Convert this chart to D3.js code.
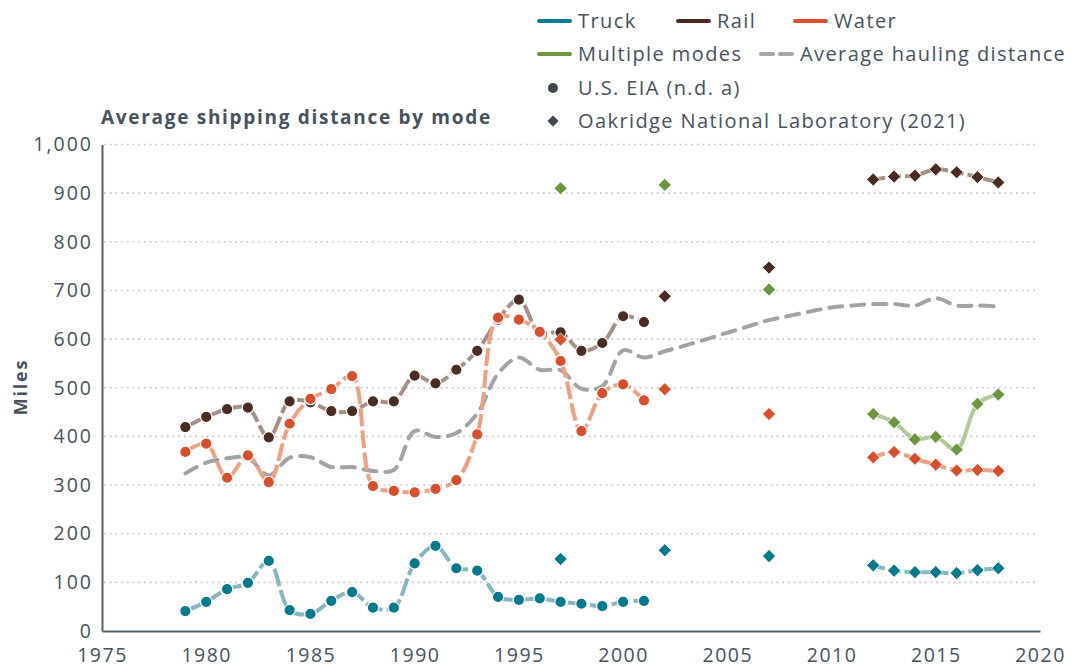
<!DOCTYPE html>
<html>
<head>
<meta charset="utf-8">
<script src="https://cdn.jsdelivr.net/npm/d3@7"></script>
<style>
  body { margin: 0; background: #fff; }
  text { font-family: 'Open Sans', sans-serif; fill: #46525c; }
</style>
</head>
<body>
<div id="chart"></div>
<script>
// Dados
const eiaYears = d3.range(1979, 2002);
const eiaTruck = [41, 60, 86, 99, 144, 43, 35, 62, 80, 48, 48, 139, 175, 129, 124, 70, 64, 67, 60, 56, 51, 60, 62];
const eiaRail = [419, 440, 456, 459, 398, 472, 470, 452, 452, 472, 472, 525, 509, 537, 576, 640, 681, 612, 614, 576, 592, 647, 635];
const eiaWater = [368, 385, 315, 361, 306, 426, 477, 497, 524, 298, 288, 285, 292, 310, 404, 644, 640, 615, 555, 411, 489, 507, 474];

const ornlYears = [1997, 2002, 2007, 2012, 2013, 2014, 2015, 2016, 2017, 2018];
const ornlTruck = [148, 166, 154, 135, 124, 121, 121, 119, 125, 129];
const ornlRail = [null, 688, 747, 928, 934, 936, 949, 943, 933, 922];
const ornlWater = [599, 497, 446, 357, 368, 354, 342, 330, 331, 329];
const ornlMulti = [910, 917, 702, 446, 429, 394, 399, 373, 467, 486];

const avgYears = d3.range(1979, 2019);
const avgHaul = [324, 346, 355, 356, 320, 356, 357, 337, 337, 329, 331, 411, 399, 407, 447, 529, 562, 537, 536, 498,
  503, 577, 562, 575, 587, 600, 613, 626, 639, 648, 657, 665, 669, 672, 672, 669, 684, 669, 669, 667];

const xTicks = d3.range(1975, 2021, 5);
const yTicks = d3.range(0, 1001, 100);

const modes = [
  { name: 'Truck', dark: '#007a8c', light: '#88b5c2', eia: eiaTruck, ornl: ornlTruck },
  { name: 'Rail', dark: '#4b2c22', light: '#a58f86', eia: eiaRail, ornl: ornlRail },
  { name: 'Water', dark: '#d94f2b', light: '#eca282', eia: eiaWater, ornl: ornlWater },
  { name: 'Multiple modes', dark: '#6b983d', light: '#b2c79a', eia: null, ornl: ornlMulti }
];

const width = 1072, height = 668;

const svg = d3.select('#chart').append('svg')
  .attr('width', width)
  .attr('height', height);

// Escalas
const x = d3.scaleLinear().domain([1975, 2020]).range([102, 1040]);
const y = d3.scaleLinear().domain([0, 1000]).range([631, 144.5]);

// Grade pontilhada
svg.append('g')
  .selectAll('line')
  .data(yTicks.filter(d => d > 0))
  .join('line')
  .attr('x1', x(1975) + 2)
  .attr('x2', 1038)
  .attr('y1', d => y(d))
  .attr('y2', d => y(d))
  .attr('stroke', '#c6c6c6')
  .attr('stroke-width', 1.6)
  .attr('stroke-dasharray', '1.8 3.9');

// Eixos
const xAxis = svg.append('g')
  .attr('transform', `translate(0,${y(0)})`)
  .call(d3.axisBottom(x).tickValues(xTicks).tickFormat(d3.format('d')).tickSize(0).tickPadding(17));
xAxis.select('.domain').attr('stroke', '#56616b').attr('stroke-width', 2);
xAxis.selectAll('text')
  .style('font-size', '19.5px')
  .style('letter-spacing', '1.5px')
  .attr('fill', '#46525c');

const yAxis = svg.append('g')
  .attr('transform', `translate(${x(1975)},0)`)
  .call(d3.axisLeft(y).tickValues(yTicks).tickFormat(d3.format(',')).tickSize(0).tickPadding(9));
yAxis.select('.domain').attr('stroke', '#56616b').attr('stroke-width', 2);
yAxis.selectAll('text')
  .style('font-size', '19.5px')
  .style('letter-spacing', '2px')
  .attr('fill', '#46525c');

// Linhas
const line = d3.line()
  .defined(d => d[1] != null)
  .x(d => x(d[0]))
  .y(d => y(d[1]))
  .curve(d3.curveCatmullRom.alpha(0.5));

svg.append('path')
  .datum(avgYears.map((yr, i) => [yr, avgHaul[i]]))
  .attr('fill', 'none')
  .attr('stroke', '#a3a3a3')
  .attr('stroke-width', 4)
  .attr('stroke-linecap', 'round')
  .attr('stroke-dasharray', '13 9')
  .attr('d', line);

modes.forEach(m => {
  if (m.eia) {
    svg.append('path')
      .datum(eiaYears.map((yr, i) => [yr, m.eia[i]]))
      .attr('fill', 'none')
      .attr('stroke', m.light)
      .attr('stroke-width', 4)
      .attr('stroke-dasharray', '18 4')
      .attr('d', line);
  }
  // ORNL só liga 2012-2018
  svg.append('path')
    .datum(ornlYears.map((yr, i) => [yr, m.ornl[i]]).filter(d => d[0] >= 2012))
    .attr('fill', 'none')
    .attr('stroke', m.light)
    .attr('stroke-width', 4)
    .attr('stroke-dasharray', m.name === 'Multiple modes' ? null : '12 4')
    .attr('d', line);
});

// Pontos
const diamond = d3.symbol().type(d3.symbolDiamond2).size(110);

modes.forEach(m => {
  if (m.eia) {
    svg.append('g')
      .selectAll('circle')
      .data(eiaYears.map((yr, i) => [yr, m.eia[i]]))
      .join('circle')
      .attr('cx', d => x(d[0]))
      .attr('cy', d => y(d[1]))
      .attr('r', 5.7)
      .attr('fill', m.dark)
      .attr('stroke', '#fff')
      .attr('stroke-width', 1.2);
  }
  svg.append('g')
    .selectAll('path')
    .data(ornlYears.map((yr, i) => [yr, m.ornl[i]]).filter(d => d[1] != null))
    .join('path')
    .attr('transform', d => `translate(${x(d[0])},${y(d[1])})`)
    .attr('d', diamond)
    .attr('fill', m.dark)
    .attr('stroke', '#fff')
    .attr('stroke-width', 0.8);
});

// Títulos
svg.append('text')
  .attr('x', 101)
  .attr('y', 124)
  .style('font-size', '19px')
  .style('font-weight', 700)
  .style('letter-spacing', '1.7px')
  .text('Average shipping distance by mode');

svg.append('text')
  .attr('transform', 'translate(27,387) rotate(-90)')
  .style('text-anchor', 'middle')
  .style('font-size', '18px')
  .style('font-weight', 700)
  .style('letter-spacing', '1.8px')
  .text('Miles');

// Legenda
const legendLines = [
  { label: 'Truck', color: '#0a7d94', x: 539, y: 21 },
  { label: 'Rail', color: '#4b2c22', x: 678, y: 21 },
  { label: 'Water', color: '#d9502b', x: 795, y: 21 },
  { label: 'Multiple modes', color: '#6b983d', x: 539, y: 54 },
  { label: 'Average hauling distance', color: '#a6a6a6', x: 761, y: 54, dash: true }
];

const leg = svg.append('g')
  .style('font-size', '20px')
  .style('letter-spacing', '1.4px');

legendLines.forEach(d => {
  leg.append('line')
    .attr('x1', d.x).attr('x2', d.x + 31)
    .attr('y1', d.y).attr('y2', d.y)
    .attr('stroke', d.color)
    .attr('stroke-width', 4)
    .attr('stroke-linecap', 'round')
    .attr('stroke-dasharray', d.dash ? '12 7' : null);
  leg.append('text')
    .attr('x', d.x + 39)
    .attr('y', d.y)
    .attr('dy', '0.35em')
    .text(d.label);
});

leg.append('circle')
  .attr('cx', 553).attr('cy', 88).attr('r', 5)
  .attr('fill', '#3e4850');
leg.append('text')
  .attr('x', 578).attr('y', 88).attr('dy', '0.35em')
  .text('U.S. EIA (n.d. a)');

leg.append('path')
  .attr('transform', 'translate(553,121)')
  .attr('d', d3.symbol().type(d3.symbolDiamond2).size(80))
  .attr('fill', '#3e4850');
leg.append('text')
  .attr('x', 578).attr('y', 121).attr('dy', '0.35em')
  .text('Oakridge National Laboratory (2021)');
</script>
</body>
</html>
